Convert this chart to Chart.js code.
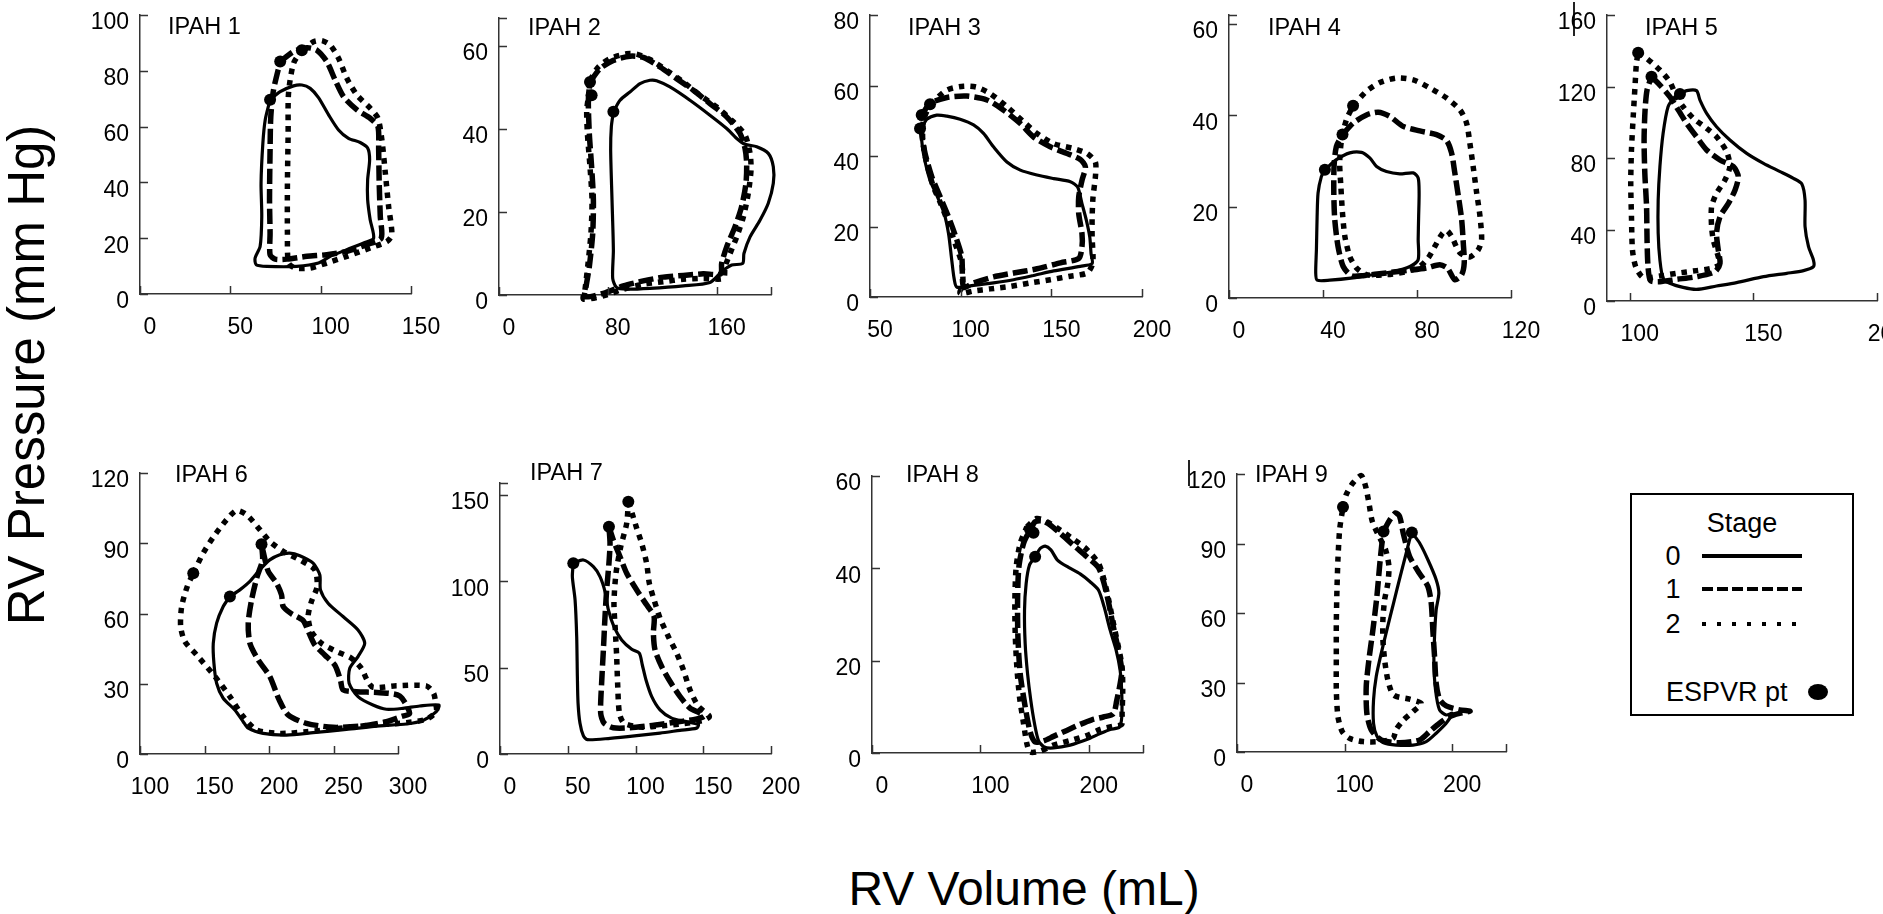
<!DOCTYPE html>
<html>
<head>
<meta charset="utf-8">
<script src="https://cdn.jsdelivr.net/npm/chart.js@4.4.1/dist/chart.umd.min.js"></script>
<style>
  html, body { margin: 0; padding: 0; background: #fff; }
  body { width: 1883px; height: 914px; position: relative; overflow: hidden;
         font-family: "Liberation Sans", Arial, sans-serif; color: #000; }
  canvas { position: absolute; }
  .ptitle { position: absolute; font-size: 23.5px; line-height: 23.5px; white-space: nowrap; }
  .axtitle { position: absolute; white-space: nowrap; line-height: 1; transform-origin: center; }
  .artifact { position: absolute; width: 1.5px; background: #222; }
</style>
</head>
<body>
<div class="axtitle" style="left:26px; top:375px; font-size:51px; transform:translate(-50%,-50%) rotate(-90deg);">RV Pressure (mm Hg)</div>
<div class="axtitle" style="left:1024px; top:889px; font-size:48px; transform:translate(-50%,-50%);">RV Volume (mL)</div>

<div id="legend" style="position:absolute; left:1630px; top:493px; width:220px; height:219px; border:2px solid #000;">
  <svg width="220" height="219" style="position:absolute; left:0; top:0; font-family:'Liberation Sans', Arial, sans-serif;">
    <text x="110" y="28" font-size="27" text-anchor="middle" dominant-baseline="central">Stage</text>
    <text x="41" y="61" font-size="27" text-anchor="middle" dominant-baseline="central">0</text>
    <text x="41" y="94" font-size="27" text-anchor="middle" dominant-baseline="central">1</text>
    <text x="41" y="129" font-size="27" text-anchor="middle" dominant-baseline="central">2</text>
    <line x1="70" y1="61" x2="170" y2="61" stroke="#000" stroke-width="4"/>
    <line x1="70" y1="94" x2="170" y2="94" stroke="#000" stroke-width="4" stroke-dasharray="11 4"/>
    <line x1="70" y1="129" x2="170" y2="129" stroke="#000" stroke-width="4" stroke-dasharray="4 11"/>
    <text x="34" y="197" font-size="27" dominant-baseline="central">ESPVR pt</text>
    <ellipse cx="186" cy="197" rx="10" ry="8" fill="#000"/>
  </svg>
</div>

<div class="artifact" style="left:1573px; top:2px; height:34px;"></div>
<div class="artifact" style="left:1188px; top:460px; height:26px;"></div>

<script>
// ---- data: [volume mL, pressure mmHg] ----
const p1s0 = [[72.0,69.6],[77.6,72.5],[85.0,74.6],[89.6,74.9],[94.2,73.7],[98.8,70.4],[104.4,64.2],[109.9,58.8],[115.4,55.8],[121.9,54.3],[126.0,52.3],[127.1,48.1],[126.0,40.9],[126.0,33.8],[127.4,26.6],[129.3,20.0],[123.8,18.3],[114.5,15.9],[105.3,13.5],[98.8,11.1],[86.8,9.9],[70.2,9.9],[64.3,10.5],[63.7,12.9],[66.5,17.1],[67.4,27.8],[67.0,39.7],[68.0,54.0],[69.3,62.4]];
const p1s1 = [[77.6,83.3],[85.0,86.9],[92.4,88.3],[97.9,87.4],[103.4,83.3],[108.0,76.7],[112.7,70.7],[120.1,66.0],[127.4,63.0],[131.7,60.0],[132.1,51.7],[132.4,39.7],[133.0,27.8],[133.5,20.0],[125.6,17.7],[114.5,15.3],[103.4,14.1],[92.4,13.5],[81.3,12.5],[74.8,12.5],[72.0,14.1],[72.0,21.8],[71.7,33.8],[72.0,51.7],[72.4,63.6],[73.9,73.1]];
const p1s2 = [[89.6,87.4],[96.0,90.4],[100.7,90.8],[105.3,89.2],[109.9,84.5],[114.5,77.3],[120.1,71.3],[127.4,66.6],[131.7,63.0],[133.9,55.2],[135.8,43.3],[137.6,31.4],[139.4,21.2],[136.6,18.8],[127.4,16.5],[114.5,13.5],[103.4,11.1],[94.2,9.3],[85.9,9.3],[82.2,11.1],[81.6,21.8],[81.6,39.7],[82.0,57.6],[82.2,71.9],[85.0,82.7]];
const p1espvr = [[72.0,69.6],[77.6,83.3],[89.6,87.4]];

const p2s0 = [[84.1,44.1],[89.0,46.9],[96.3,48.9],[103.7,50.9],[111.0,51.7],[115.9,51.6],[125.7,50.1],[140.4,46.9],[155.1,43.3],[167.4,40.1],[174.8,37.7],[180.9,36.3],[189.5,35.7],[198.0,34.1],[201.7,30.9],[201.7,26.9],[198.0,22.1],[191.9,18.0],[184.6,14.0],[180.1,10.0],[179.2,7.6],[171.1,7.2],[163.7,5.6],[155.1,3.0],[135.5,2.2],[111.0,1.6],[93.9,1.4],[86.5,1.8],[83.6,4.0],[84.1,10.8],[83.1,22.9],[82.1,34.9],[82.6,40.5]];
const p2s1 = [[66.9,51.3],[74.3,54.5],[84.1,56.5],[96.3,57.5],[106.1,57.2],[118.4,54.9],[130.6,52.1],[142.9,49.3],[155.1,46.1],[167.4,42.9],[177.2,38.9],[180.9,35.3],[182.1,31.7],[181.6,26.9],[178.4,21.3],[173.5,16.4],[167.4,11.6],[163.7,7.6],[163.0,5.1],[150.2,5.1],[135.5,4.7],[120.8,4.3],[106.1,3.4],[91.4,2.2],[76.7,0.4],[63.2,-0.4],[64.0,2.0],[66.4,6.8],[68.9,14.8],[69.4,22.9],[68.1,30.9],[66.4,38.9],[65.7,46.9]];
const p2s2 = [[66.9,51.7],[73.0,54.9],[81.6,56.9],[93.9,58.1],[101.2,58.0],[111.0,56.7],[123.3,54.1],[135.5,51.3],[147.8,48.1],[160.0,45.3],[172.3,41.7],[180.9,38.5],[184.6,34.1],[185.3,30.1],[183.3,24.5],[179.7,18.8],[174.8,14.0],[169.9,10.0],[166.2,6.8],[165.0,4.0],[150.2,4.0],[135.5,3.8],[120.8,3.2],[106.1,2.6],[91.4,1.4],[76.7,-0.2],[62.0,-1.0],[63.2,1.2],[65.2,6.8],[67.6,14.8],[68.4,22.9],[66.9,30.9],[65.0,38.9],[64.5,44.5],[65.7,47.7]];
const p2espvr = [[84.1,44.1],[66.9,51.3],[68.1,48.1]];

const p3s0 = [[78.5,47.8],[81.3,50.4],[86.8,51.6],[92.4,51.3],[99.7,50.4],[107.1,48.8],[112.6,46.4],[118.1,42.6],[125.5,38.3],[132.9,36.0],[142.1,34.6],[151.3,33.6],[160.5,32.7],[164.5,31.2],[166.9,26.5],[169.3,21.8],[171.2,17.0],[171.9,12.3],[172.5,9.5],[166.0,8.7],[151.3,7.4],[140.2,6.1],[129.2,4.9],[118.1,4.0],[107.1,3.3],[97.9,2.8],[96.4,5.2],[95.1,10.4],[93.3,18.0],[90.9,23.7],[87.2,28.4],[83.1,33.1],[79.8,39.8],[78.5,44.5]];
const p3s1 = [[78.5,51.6],[83.1,54.9],[92.4,56.6],[103.4,57.0],[114.5,55.9],[123.7,53.0],[132.9,49.2],[140.2,45.4],[149.4,42.6],[158.7,40.7],[166.0,39.0],[168.8,36.9],[166.9,33.1],[165.1,28.4],[165.1,23.7],[166.9,18.0],[166.9,14.2],[165.1,10.9],[155.0,9.7],[142.1,8.0],[129.2,6.8],[118.1,5.7],[107.1,4.0],[101.6,2.8],[100.6,11.4],[97.0,17.5],[93.3,22.7],[88.7,28.4],[84.1,34.1],[80.4,40.7],[78.5,46.4]];
const p3s2 = [[83.1,54.7],[92.4,58.7],[101.6,59.8],[108.9,59.5],[116.3,57.7],[125.5,54.0],[134.7,49.7],[142.1,46.4],[151.3,43.5],[162.3,42.1],[169.7,40.7],[174.3,38.3],[174.3,34.1],[173.0,28.4],[172.5,22.7],[172.5,17.0],[173.0,11.4],[172.5,9.0],[169.7,6.8],[160.5,5.9],[149.4,4.9],[138.4,4.0],[127.3,3.0],[116.3,2.3],[107.1,1.7],[99.7,1.1],[101.2,3.8],[100.6,9.5],[97.0,15.1],[93.3,20.8],[89.0,26.5],[85.0,31.2],[81.3,37.9],[79.1,44.5],[79.5,50.2]];
const p3espvr = [[77.6,47.8],[78.5,51.6],[83.1,54.7]];

const p4s0 = [[40.8,28.1],[45.7,30.3],[51.4,31.8],[56.4,31.9],[59.9,30.7],[62.8,28.8],[67.0,27.7],[72.7,27.2],[78.4,27.4],[80.5,26.3],[80.9,23.0],[80.7,17.9],[80.5,12.8],[80.5,8.4],[77.0,6.9],[69.9,5.8],[61.3,5.1],[52.8,4.4],[42.9,3.9],[37.5,3.9],[36.9,5.5],[37.2,10.6],[37.5,17.9],[37.9,23.0],[39.3,26.6]];
const p4s1 = [[48.3,35.8],[52.8,38.3],[58.5,40.1],[63.5,40.7],[68.4,39.8],[74.1,37.6],[81.2,36.6],[88.3,35.8],[92.6,34.5],[94.7,31.8],[96.1,27.4],[97.6,22.3],[99.0,17.2],[99.7,12.0],[100.1,7.7],[99.0,5.1],[96.1,4.0],[93.0,6.5],[89.7,7.3],[84.1,6.6],[77.0,6.1],[67.0,5.5],[57.1,4.9],[52.1,4.9],[48.6,6.9],[46.4,11.3],[45.0,17.2],[44.6,23.0],[44.7,28.8],[45.7,33.2]];
const p4s2 = [[52.8,42.1],[58.5,45.3],[64.2,47.2],[71.3,48.2],[78.4,47.8],[85.5,46.0],[92.6,43.8],[98.3,41.2],[101.1,38.3],[102.5,33.9],[103.9,28.8],[105.4,23.0],[106.8,17.9],[107.5,12.8],[106.1,10.6],[102.5,9.0],[98.3,9.9],[94.7,13.5],[92.6,14.8],[90.5,13.9],[87.6,11.3],[84.8,8.8],[81.2,6.9],[75.5,5.8],[67.0,5.1],[58.5,5.1],[54.2,6.6],[51.4,9.1],[49.3,13.5],[48.3,18.6],[47.6,24.5],[47.1,29.6],[47.9,34.7],[50.0,39.1]];
const p4espvr = [[40.8,28.1],[48.3,35.8],[52.8,42.1]];

const p5s0 = [[120.3,115.8],[123.0,117.7],[127.0,117.7],[128.4,112.4],[131.1,105.0],[135.1,97.5],[140.5,90.1],[147.3,82.6],[154.1,77.0],[160.8,72.4],[166.2,68.6],[169.6,65.5],[170.9,56.5],[170.9,41.6],[172.3,30.4],[174.3,22.9],[174.3,19.2],[170.3,17.0],[163.5,15.5],[154.1,13.6],[143.2,10.3],[135.1,8.4],[127.0,6.5],[121.6,7.6],[116.2,9.9],[113.5,12.7],[112.2,22.9],[111.5,37.9],[111.5,56.5],[112.2,75.2],[113.5,93.8],[115.5,108.7],[118.2,113.9]];
const p5s1 = [[108.8,125.5],[112.2,120.8],[116.2,114.3],[119.6,106.9],[123.0,99.4],[127.0,91.9],[131.1,84.5],[136.5,78.9],[141.9,75.2],[143.9,69.6],[142.6,62.1],[139.9,54.6],[136.5,47.2],[135.1,37.9],[135.8,28.5],[136.5,21.1],[134.5,16.4],[127.0,13.6],[118.9,12.1],[112.2,10.8],[108.4,11.4],[107.4,19.2],[107.0,34.1],[106.8,52.8],[106.1,71.4],[105.8,90.1],[106.2,106.9],[107.0,118.0]];
const p5s2 = [[103.4,138.9],[106.8,135.8],[112.2,129.2],[116.2,122.7],[118.9,114.3],[121.6,108.7],[125.7,102.2],[131.1,96.6],[135.1,91.9],[139.2,83.5],[140.5,75.2],[138.5,67.7],[135.1,60.2],[133.1,52.8],[133.1,41.6],[133.8,34.1],[135.8,24.8],[136.5,20.7],[133.1,18.3],[127.0,17.0],[118.9,15.5],[112.2,14.0],[105.4,13.2],[102.4,19.2],[101.1,28.5],[100.7,47.2],[100.4,65.8],[100.7,84.5],[101.4,103.1],[102.2,121.8],[102.7,133.0]];
const p5espvr = [[120.3,115.8],[108.8,125.5],[103.4,138.9]];

const p6s0 = [[169.7,67.3],[177.4,70.1],[185.2,73.7],[192.9,78.7],[200.6,82.9],[208.4,85.1],[216.1,85.8],[223.9,84.7],[234.2,81.5],[239.4,76.5],[239.9,70.1],[245.8,64.4],[257.4,58.7],[269.0,53.0],[274.2,47.3],[269.0,41.6],[262.6,36.6],[262.1,30.2],[269.0,24.5],[280.6,20.9],[291.0,19.1],[303.9,19.5],[316.8,20.5],[331.7,20.9],[329.7,18.1],[319.4,14.3],[306.5,12.8],[285.8,12.0],[260.0,10.5],[234.2,9.1],[213.5,8.1],[195.5,8.8],[183.9,11.0],[180.0,13.8],[173.5,18.8],[164.5,23.8],[159.4,30.2],[157.3,38.8],[156.8,47.3],[159.4,55.9],[164.5,63.0]];
const p6s1 = [[194.2,89.6],[195.0,82.9],[190.8,75.8],[186.5,65.8],[183.9,55.9],[185.2,47.3],[191.6,40.2],[200.6,33.1],[207.9,23.1],[214.8,16.7],[229.0,13.1],[249.7,11.4],[272.9,12.0],[291.0,13.8],[302.6,16.0],[309.0,17.4],[301.3,24.8],[285.8,26.2],[267.7,26.6],[257.4,27.4],[255.4,31.6],[251.0,38.0],[243.2,42.3],[235.5,46.6],[231.1,51.6],[226.5,57.0],[217.4,59.9],[211.0,63.0],[209.7,68.0],[205.8,73.0],[199.4,78.0]];
const p6s2 = [[141.3,77.2],[149.0,85.8],[156.8,92.6],[167.1,100.0],[174.8,104.0],[182.6,102.2],[192.9,95.8],[200.6,90.8],[211.0,86.5],[223.9,82.9],[235.5,78.7],[237.3,71.5],[232.9,65.1],[230.3,58.7],[232.9,52.3],[240.6,47.3],[252.3,43.8],[263.9,40.9],[271.6,36.6],[276.0,31.6],[280.6,28.5],[298.7,29.1],[321.9,29.1],[327.6,25.9],[329.2,21.7],[329.7,18.1],[321.9,14.8],[301.3,13.1],[280.6,12.4],[254.8,11.0],[229.0,9.5],[208.4,8.8],[190.3,10.3],[180.0,16.0],[169.7,24.5],[158.1,33.1],[143.9,42.3],[134.8,48.0],[131.5,54.4],[132.3,63.0],[136.6,71.5]];
const p6espvr = [[169.7,67.3],[194.2,89.6],[141.3,77.2]];

const p7s0 = [[54.1,110.5],[61.5,112.4],[68.9,108.5],[73.8,102.8],[77.5,94.1],[80.0,83.5],[84.1,73.8],[89.8,66.1],[97.2,60.7],[102.8,58.4],[105.0,51.7],[107.7,43.0],[111.9,33.4],[118.1,25.6],[126.7,20.8],[136.5,18.9],[146.4,17.0],[145.1,15.0],[132.8,13.7],[118.1,12.1],[100.9,10.6],[81.2,9.1],[64.5,8.3],[61.5,10.6],[59.0,17.9],[57.6,29.5],[57.1,44.9],[56.6,68.1],[55.4,89.3],[53.4,102.8]];
const p7s1 = [[80.4,131.7],[83.6,124.0],[88.6,114.3],[93.5,104.7],[100.9,95.0],[108.2,86.4],[113.7,79.6],[113.2,70.0],[114.4,60.3],[119.3,50.7],[125.5,42.0],[132.8,33.4],[140.2,26.6],[147.6,23.7],[150.6,21.8],[142.7,19.9],[127.9,18.3],[110.7,16.4],[95.9,15.2],[83.6,15.2],[76.8,17.9],[74.3,23.7],[75.0,41.1],[76.3,60.3],[77.5,79.6],[78.7,95.0],[80.4,110.5],[81.2,122.0]];
const p7s2 = [[94.7,146.1],[97.9,138.4],[100.9,130.7],[104.6,122.0],[108.2,110.5],[110.2,98.9],[113.7,89.3],[118.1,78.7],[124.2,68.1],[130.4,58.4],[135.3,48.8],[140.2,37.2],[146.4,27.6],[154.5,21.8],[150.1,19.5],[135.3,17.5],[120.5,16.4],[103.3,15.6],[91.5,17.9],[88.1,23.7],[86.8,41.1],[86.1,56.5],[85.1,71.9],[84.1,87.3],[85.6,104.7],[89.1,120.1],[93.5,133.6]];
const p7espvr = [[54.1,110.5],[80.4,131.7],[94.7,146.1]];

const p8s0 = [[150.5,42.5],[155.1,44.3],[159.8,44.8],[165.0,44.0],[171.1,41.8],[181.3,40.2],[192.0,38.8],[201.2,37.1],[208.9,35.3],[214.1,31.7],[219.7,26.6],[225.2,22.3],[228.9,17.9],[230.4,12.9],[230.4,7.8],[228.3,5.6],[219.7,5.1],[210.4,4.2],[198.2,2.9],[182.8,1.7],[167.4,1.1],[158.8,1.3],[153.6,2.7],[149.9,6.4],[146.5,11.4],[143.5,17.2],[141.3,23.7],[140.7,30.9],[142.2,36.7],[145.3,40.7]];
const p8s1 = [[145.9,48.4],[150.5,50.1],[156.7,50.3],[164.4,49.4],[173.6,47.6],[185.9,45.0],[198.2,42.5],[208.9,40.2],[214.1,36.7],[218.4,32.4],[222.7,27.3],[227.3,22.3],[230.4,17.9],[228.9,15.0],[225.8,11.4],[222.7,8.5],[213.5,7.8],[202.8,7.2],[192.0,6.2],[179.7,4.9],[167.4,3.6],[158.2,2.6],[150.5,2.4],[145.9,4.6],[141.3,10.0],[136.7,17.2],[134.6,25.2],[134.3,33.1],[135.5,40.3],[139.8,45.4]];
const p8s2 = [[142.9,49.0],[152.1,50.8],[161.3,50.1],[173.6,48.3],[185.9,46.3],[198.2,44.1],[208.9,41.1],[214.1,37.5],[218.4,33.1],[222.7,28.1],[227.3,23.0],[230.7,18.7],[231.3,13.6],[230.7,8.5],[230.4,6.2],[222.7,5.8],[210.4,5.1],[198.2,3.8],[182.8,2.7],[167.4,1.7],[155.1,0.4],[145.9,0.2],[142.9,2.0],[139.8,6.4],[136.1,12.1],[133.6,18.7],[132.1,25.9],[131.8,33.1],[133.0,40.3],[136.7,45.4]];
const p8espvr = [[150.5,42.5],[145.9,48.4],[149.0,47.7]];

const p9s0 = [[162.5,94.8],[169.7,90.2],[177.4,83.0],[185.1,74.4],[187.6,68.6],[185.1,61.4],[183.6,49.9],[183.0,38.3],[184.5,26.8],[188.2,18.2],[194.4,16.0],[200.0,16.7],[194.4,12.4],[185.1,8.1],[175.9,4.5],[163.5,3.0],[148.0,3.0],[136.2,4.0],[130.0,6.9],[126.9,12.4],[126.9,22.5],[129.4,32.6],[134.1,42.7],[139.3,52.7],[145.5,64.3],[151.7,75.8],[157.3,85.9],[160.4,91.6]];
const p9s1 = [[136.2,95.2],[141.8,100.0],[147.4,103.2],[151.1,101.7],[154.8,93.8],[160.4,84.4],[169.0,77.5],[177.4,71.5],[180.5,64.3],[182.0,52.7],[183.6,41.2],[185.1,29.7],[188.2,22.8],[194.4,19.9],[206.8,18.2],[216.7,17.6],[206.8,16.7],[197.5,15.3],[188.2,12.4],[178.9,8.8],[169.7,5.2],[151.1,4.0],[134.1,5.2],[124.8,9.5],[120.7,16.7],[120.1,28.2],[122.6,39.8],[126.3,52.7],[130.0,67.1],[132.5,80.1],[134.4,88.8]];
const p9s2 = [[98.5,105.8],[101.5,111.1],[107.7,116.1],[115.5,119.3],[119.5,114.7],[122.6,107.5],[125.7,99.6],[131.9,93.1],[138.1,87.3],[141.2,80.1],[140.2,72.9],[137.2,65.7],[135.6,57.1],[135.6,48.4],[137.2,39.8],[140.2,31.1],[145.5,24.6],[160.4,22.8],[171.2,21.0],[163.5,17.4],[154.8,13.8],[148.0,9.8],[144.9,5.9],[132.5,4.5],[117.0,4.5],[104.6,5.9],[97.8,8.8],[93.8,15.3],[92.3,26.8],[92.3,41.2],[92.3,55.6],[92.9,70.0],[93.8,83.0],[95.4,96.0]];
const p9espvr = [[162.5,94.8],[136.2,95.2],[98.5,105.8]];

// ---- tick labels ----
const p1xTicks = [0, 50, 100, 150],  p1yTicks = [0, 20, 40, 60, 80, 100];
const p2xTicks = [0, 80, 160],       p2yTicks = [0, 20, 40, 60];
const p3xTicks = [50, 100, 150, 200], p3yTicks = [0, 20, 40, 60, 80];
const p4xTicks = [0, 40, 80, 120],   p4yTicks = [0, 20, 40, 60];
const p5xTicks = [100, 150, 200],    p5yTicks = [0, 40, 80, 120, 160];
const p6xTicks = [100, 150, 200, 250, 300], p6yTicks = [0, 30, 60, 90, 120];
const p7xTicks = [0, 50, 100, 150, 200], p7yTicks = [0, 50, 100, 150];
const p8xTicks = [0, 100, 200],      p8yTicks = [0, 20, 40, 60];
const p9xTicks = [0, 100, 200],      p9yTicks = [0, 30, 60, 90, 120];

const panels = [
  { name: 'IPAH 1', loops: [p1s0, p1s1, p1s2], espvr: p1espvr, x: [0, 150],   xt: p1xTicks, y: [0, 100],  yt: p1yTicks },
  { name: 'IPAH 2', loops: [p2s0, p2s1, p2s2], espvr: p2espvr, x: [0, 200],   xt: p2xTicks, y: [0, 66.7], yt: p2yTicks },
  { name: 'IPAH 3', loops: [p3s0, p3s1, p3s2], espvr: p3espvr, x: [50, 200],  xt: p3xTicks, y: [0, 80],   yt: p3yTicks },
  { name: 'IPAH 4', loops: [p4s0, p4s1, p4s2], espvr: p4espvr, x: [0, 120],   xt: p4xTicks, y: [0, 62],   yt: p4yTicks },
  { name: 'IPAH 5', loops: [p5s0, p5s1, p5s2], espvr: p5espvr, x: [90.8, 200],xt: p5xTicks, y: [0, 160],  yt: p5yTicks },
  { name: 'IPAH 6', loops: [p6s0, p6s1, p6s2], espvr: p6espvr, x: [100, 300], xt: p6xTicks, y: [0, 120],  yt: p6yTicks },
  { name: 'IPAH 7', loops: [p7s0, p7s1, p7s2], espvr: p7espvr, x: [0, 200],   xt: p7xTicks, y: [0, 157],  yt: p7yTicks },
  { name: 'IPAH 8', loops: [p8s0, p8s1, p8s2], espvr: p8espvr, x: [0, 250],   xt: p8xTicks, y: [0, 60],   yt: p8yTicks },
  { name: 'IPAH 9', loops: [p9s0, p9s1, p9s2], espvr: p9espvr, x: [0, 250],   xt: p9xTicks, y: [0, 120],  yt: p9yTicks }
];

// plot boxes on the page [left, top, right, bottom] and title anchors [left, centerY]
const boxes = [
  [140, 15, 411, 294], [499, 18, 771, 295], [870, 15, 1142, 297], [1229, 15, 1511, 298], [1607, 15, 1877, 301],
  [140, 473, 398, 754], [500, 483, 771, 754], [872, 476, 1143, 753], [1237, 474, 1506, 752]
];
const titleAt = [[168, 26], [528, 27], [908, 27], [1268, 27], [1645, 27], [175, 474], [530, 472], [906, 474], [1255, 474]];

const stageStyle = [
  { width: 3.2, dash: [] },
  { width: 5.5, dash: [15, 5] },
  { width: 5.5, dash: [5.5, 6] }
];

const FONT = '"Liberation Sans", Arial, sans-serif';
const AXW = 70, AXH = 56, PADT = 34, PADR = 64;

const toXY = pts => pts.map(p => ({ x: p[0], y: p[1] }));
const closeLoop = pts => toXY(pts.concat([pts[0]]));

// small tick marks pointing into the plot, like the original figure
const inwardTicks = {
  id: 'inwardTicks',
  afterDraw(chart) {
    const { ctx, chartArea: a } = chart;
    const xs = chart.scales.x, ys = chart.scales.y;
    ctx.save();
    ctx.strokeStyle = '#333';
    ctx.lineWidth = 1.5;
    ctx.beginPath();
    xs.ticks.map(t => t.value).concat([xs.max]).forEach(v => {
      const px = Math.round(xs.getPixelForValue(v)) + 0.5;
      ctx.moveTo(px, a.bottom);
      ctx.lineTo(px, a.bottom - 8);
    });
    ys.ticks.map(t => t.value).concat([ys.max]).forEach(v => {
      const py = Math.round(ys.getPixelForValue(v)) + 0.5;
      ctx.moveTo(a.left, py);
      ctx.lineTo(a.left + 8, py);
    });
    ctx.stroke();
    ctx.restore();
  }
};

panels.forEach((p, i) => {
  const [L, T, R, B] = boxes[i];
  const w = R - L + AXW + PADR, h = B - T + PADT + AXH;
  const cv = document.createElement('canvas');
  cv.width = w; cv.height = h;
  cv.style.left = (L - AXW) + 'px';
  cv.style.top = (T - PADT) + 'px';
  cv.style.width = w + 'px';
  cv.style.height = h + 'px';
  document.body.appendChild(cv);

  const t = document.createElement('div');
  t.className = 'ptitle';
  t.textContent = p.name;
  t.style.left = titleAt[i][0] + 'px';
  t.style.top = (titleAt[i][1] - 11.5) + 'px';
  document.body.appendChild(t);

  const datasets = p.loops.map((pts, k) => ({
    data: closeLoop(pts),
    showLine: true,
    fill: false,
    borderColor: '#000',
    borderWidth: stageStyle[k].width,
    borderDash: stageStyle[k].dash,
    borderCapStyle: 'butt',
    borderJoinStyle: 'round',
    pointRadius: 0,
    tension: 0.25,
    clip: false
  }));
  datasets.push({
    data: toXY(p.espvr),
    showLine: false,
    pointRadius: 6,
    pointBackgroundColor: '#000',
    pointBorderWidth: 0,
    clip: false
  });

  new Chart(cv, {
    type: 'scatter',
    data: { datasets: datasets },
    options: {
      responsive: false,
      animation: false,
      devicePixelRatio: 1,
      events: [],
      layout: { padding: { left: 0, top: PADT, right: PADR, bottom: 0 } },
      plugins: { legend: { display: false }, tooltip: { enabled: false } },
      scales: {
        x: {
          type: 'linear',
          min: p.x[0], max: p.x[1],
          afterBuildTicks: s => { s.ticks = p.xt.map(v => ({ value: v })); },
          afterFit: s => { s.height = AXH; },
          grid: { display: false, drawTicks: false },
          border: { display: true, color: '#333', width: 1.5 },
          ticks: { font: { family: FONT, size: 23 }, color: '#000', padding: 20, labelOffset: 10, maxRotation: 0, autoSkip: false }
        },
        y: {
          type: 'linear',
          min: p.y[0], max: p.y[1],
          afterBuildTicks: s => { s.ticks = p.yt.map(v => ({ value: v })); },
          afterFit: s => { s.width = AXW; },
          grid: { display: false, drawTicks: false },
          border: { display: true, color: '#333', width: 1.5 },
          ticks: { font: { family: FONT, size: 23 }, color: '#000', padding: 11, labelOffset: 8, autoSkip: false }
        }
      }
    },
    plugins: [inwardTicks]
  });
});
</script>
</body>
</html>
